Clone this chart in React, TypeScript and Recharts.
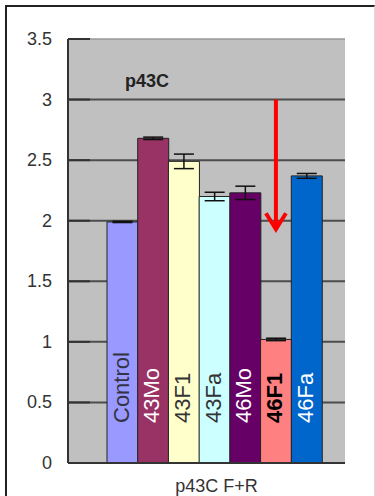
import React from "react";
import {
  BarChart,
  Bar,
  Cell,
  XAxis,
  YAxis,
  CartesianGrid,
  ErrorBar,
  LabelList,
  ReferenceLine,
} from "recharts";

const categories = ["Control", "43Mo", "43F1", "43Fa", "46Mo", "46F1", "46Fa"];
const means = [1.99, 2.68, 2.49, 2.2, 2.23, 1.02, 2.37];
const errors = [0.005, 0.01, 0.06, 0.035, 0.055, 0.01, 0.02];
const yTicks = [0, 0.5, 1, 1.5, 2, 2.5, 3, 3.5];
const gridValues = [0.5, 1, 1.5, 2, 2.5, 3];
const chartTitle = "p43C";
const axisTitle = "p43C F+R";
const arrowAt = "46F1";
const arrowFrom = 3.0;
const arrowTo = 1.93;

// excel-ish palette
const barFills = ["#9999ff", "#993366", "#ffffcc", "#ccffff", "#660066", "#ff8080", "#0066cc"];
const labelFills = ["#333344", "#ffffff", "#333333", "#333333", "#ffffff", "#000000", "#ffffff"];

const data = categories.map((name, i) => ({ name, value: means[i], err: errors[i] }));

const FONT = "'Liberation Sans', Arial, sans-serif";

const YTick = (props: any) => {
  const { x, y, payload } = props;
  return (
    <g>
      <text x={x} y={y} textAnchor="end" dominantBaseline="central" fontSize={18} fill="#333" fontFamily={FONT}>
        {payload.value}
      </text>
      <line x1={x + 16} x2={x + 38} y1={y} y2={y} stroke="#333" strokeWidth={2} />
    </g>
  );
};

const BarLabel = (props: any) => {
  const { x, y, width, height, value } = props;
  const i = categories.indexOf(value);
  const tx = Number(x) + Number(width) / 2 + 6;
  const ty = Number(y) + Number(height) - 40;
  return (
    <text
      x={tx}
      y={ty}
      transform={`rotate(-90 ${tx} ${ty})`}
      fill={labelFills[i]}
      fontSize={22}
      fontWeight={value === "46F1" ? "bold" : "normal"}
      fontFamily={FONT}
    >
      {value}
    </text>
  );
};

const Arrow = (props: any) => {
  const { x1, y1, x2, y2 } = props;
  return (
    <g>
      <line x1={x1} y1={y1} x2={x2} y2={y2 - 2} stroke="#ff0000" strokeWidth={4} />
      <polyline
        points={`${x2 - 10},${y2 - 16} ${x2},${y2} ${x2 + 10},${y2 - 16}`}
        fill="none"
        stroke="#ff0000"
        strokeWidth={4}
      />
    </g>
  );
};

export default function App() {
  return (
    <div style={{ position: "absolute", left: 0, top: 0, width: 375, height: 496, background: "#fff", overflow: "hidden" }}>
      <div
        style={{
          position: "absolute",
          left: 5,
          top: 5,
          width: 367,
          height: 500,
          borderLeft: "2px solid #222",
          borderTop: "2px solid #222",
          borderRight: "1px solid #ddd",
        }}
      />
      <div style={{ position: "absolute", left: 0, top: 0 }}>
        <BarChart
          width={375}
          height={496}
          data={data}
          barCategoryGap={0}
          margin={{ top: 39, right: 30, left: 18, bottom: 0 }}
        >
          <CartesianGrid
            vertical={false}
            horizontalValues={gridValues}
            fill="#c0c0c0"
            stroke="#4d4d4d"
            strokeWidth={2}
          />
          <XAxis
            dataKey="name"
            tick={false}
            tickLine={false}
            axisLine={{ stroke: "#333", strokeWidth: 2 }}
            padding={{ left: 39, right: 23 }}
            height={33}
            label={{ value: axisTitle, position: "insideBottom", offset: 4, dx: 10, fontSize: 18, fill: "#333", fontFamily: FONT }}
          />
          <YAxis
            domain={[0, 3.5]}
            ticks={yTicks}
            width={50}
            tickSize={0}
            tickMargin={16}
            tickLine={false}
            axisLine={{ stroke: "#333", strokeWidth: 2 }}
            tick={<YTick />}
          />
          <YAxis yAxisId="r" orientation="right" width={0} domain={[0, 3.5]} tick={false} tickLine={false} axisLine={{ stroke: "#999" }} />
          <ReferenceLine y={3.5} stroke="#999" strokeWidth={1.5} />
          <Bar dataKey="value" stroke="#222" strokeWidth={1} isAnimationActive={false}>
            {data.map((d, i) => (
              <Cell key={d.name} fill={barFills[i]} />
            ))}
            <ErrorBar dataKey="err" width={10} stroke="#111" strokeWidth={1.5} direction="y" />
            <LabelList dataKey="name" content={<BarLabel />} />
          </Bar>
          <ReferenceLine
            segment={[
              { x: arrowAt, y: arrowFrom },
              { x: arrowAt, y: arrowTo },
            ]}
            shape={<Arrow />}
            ifOverflow="visible"
          />
        </BarChart>
      </div>
      <div
        style={{
          position: "absolute",
          left: 125,
          top: 72,
          fontSize: 18,
          lineHeight: "18px",
          fontWeight: "bold",
          fontFamily: FONT,
          color: "#222",
        }}
      >
        {chartTitle}
      </div>
    </div>
  );
}
